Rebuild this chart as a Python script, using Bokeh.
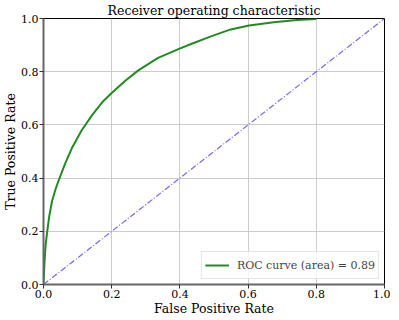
from bokeh.plotting import figure
from bokeh.models import Range1d, FixedTicker, PrintfTickFormatter, Legend, LegendItem
from bokeh.embed import file_html
from bokeh.resources import INLINE

# ROC curve data
fpr = [0.0, 0.0, 0.001, 0.003, 0.006, 0.011, 0.017, 0.025, 0.035, 0.047, 0.064,
       0.083, 0.112, 0.142, 0.172, 0.2, 0.239, 0.278, 0.336, 0.399, 0.433,
       0.491, 0.549, 0.603, 0.675, 0.743, 0.8]
tpr = [0.0, 0.005, 0.03, 0.084, 0.146, 0.2, 0.258, 0.313, 0.357, 0.4, 0.456,
       0.512, 0.58, 0.636, 0.685, 0.72, 0.765, 0.805, 0.852, 0.887, 0.904,
       0.933, 0.959, 0.974, 0.986, 0.994, 0.998]
diag_x = [0.0, 1.0]
diag_y = [0.0, 1.0]
ticks = [0.0, 0.2, 0.4, 0.6, 0.8, 1.0]
auc_label = "ROC curve (area) = 0.89"

FONT = "DejaVu Serif"

p = figure(frame_width=341, frame_height=266, output_backend="svg", toolbar_location=None,
           x_range=Range1d(0, 1), y_range=Range1d(0, 1),
           title="Receiver operating characteristic",
           x_axis_label="False Positive Rate", y_axis_label="True Positive Rate",
           min_border_left=0, min_border_right=6, min_border_top=0, min_border_bottom=0)

p.title.align = "center"
p.title.text_font = FONT
p.title.text_font_size = "12.5px"
p.title.text_font_style = "normal"
p.title.text_color = "black"
p.title.standoff = 1
p.title.offset = 0

p.outline_line_color = "black"
p.outline_line_width = 1
p.outline_line_alpha = 1.0

for ax in (p.xaxis[0], p.yaxis[0]):
    ax.ticker = FixedTicker(ticks=ticks)
    ax.formatter = PrintfTickFormatter(format="%.1f")
    ax.axis_line_color = "#666666"
    ax.axis_line_width = 2
    ax.major_tick_line_color = "#333333"
    ax.major_tick_out = 4
    ax.major_tick_in = 0
    ax.minor_tick_line_color = None
    ax.major_label_text_font = FONT
    ax.major_label_text_font_size = "11px"
    ax.major_label_text_color = "black"
    ax.axis_label_text_font = FONT
    ax.axis_label_text_font_size = "12.5px"
    ax.axis_label_text_font_style = "normal"
    ax.axis_label_text_color = "black"
    ax.major_label_standoff = 1
    ax.axis_label_standoff = 0

p.xgrid.grid_line_color = "#cccccc"
p.ygrid.grid_line_color = "#cccccc"
p.xgrid.grid_line_width = 1
p.ygrid.grid_line_width = 1

roc = p.line(fpr, tpr, line_color="#228B22", line_width=2)
p.line(diag_x, diag_y, line_color="#7B68EE", line_width=1.2, line_dash="6 2 1 2")

legend = Legend(items=[LegendItem(label=auc_label, renderers=[roc])], location="bottom_right")
legend.label_text_font = FONT
legend.label_text_font_size = "11px"
legend.border_line_color = "#cccccc"
legend.border_line_width = 1
legend.background_fill_alpha = 0.8
legend.margin = 5
legend.padding = 3
legend.glyph_width = 24
legend.label_standoff = 8
legend.spacing = 0
p.add_layout(legend)

open("out.html", "w").write(file_html(p, INLINE))
